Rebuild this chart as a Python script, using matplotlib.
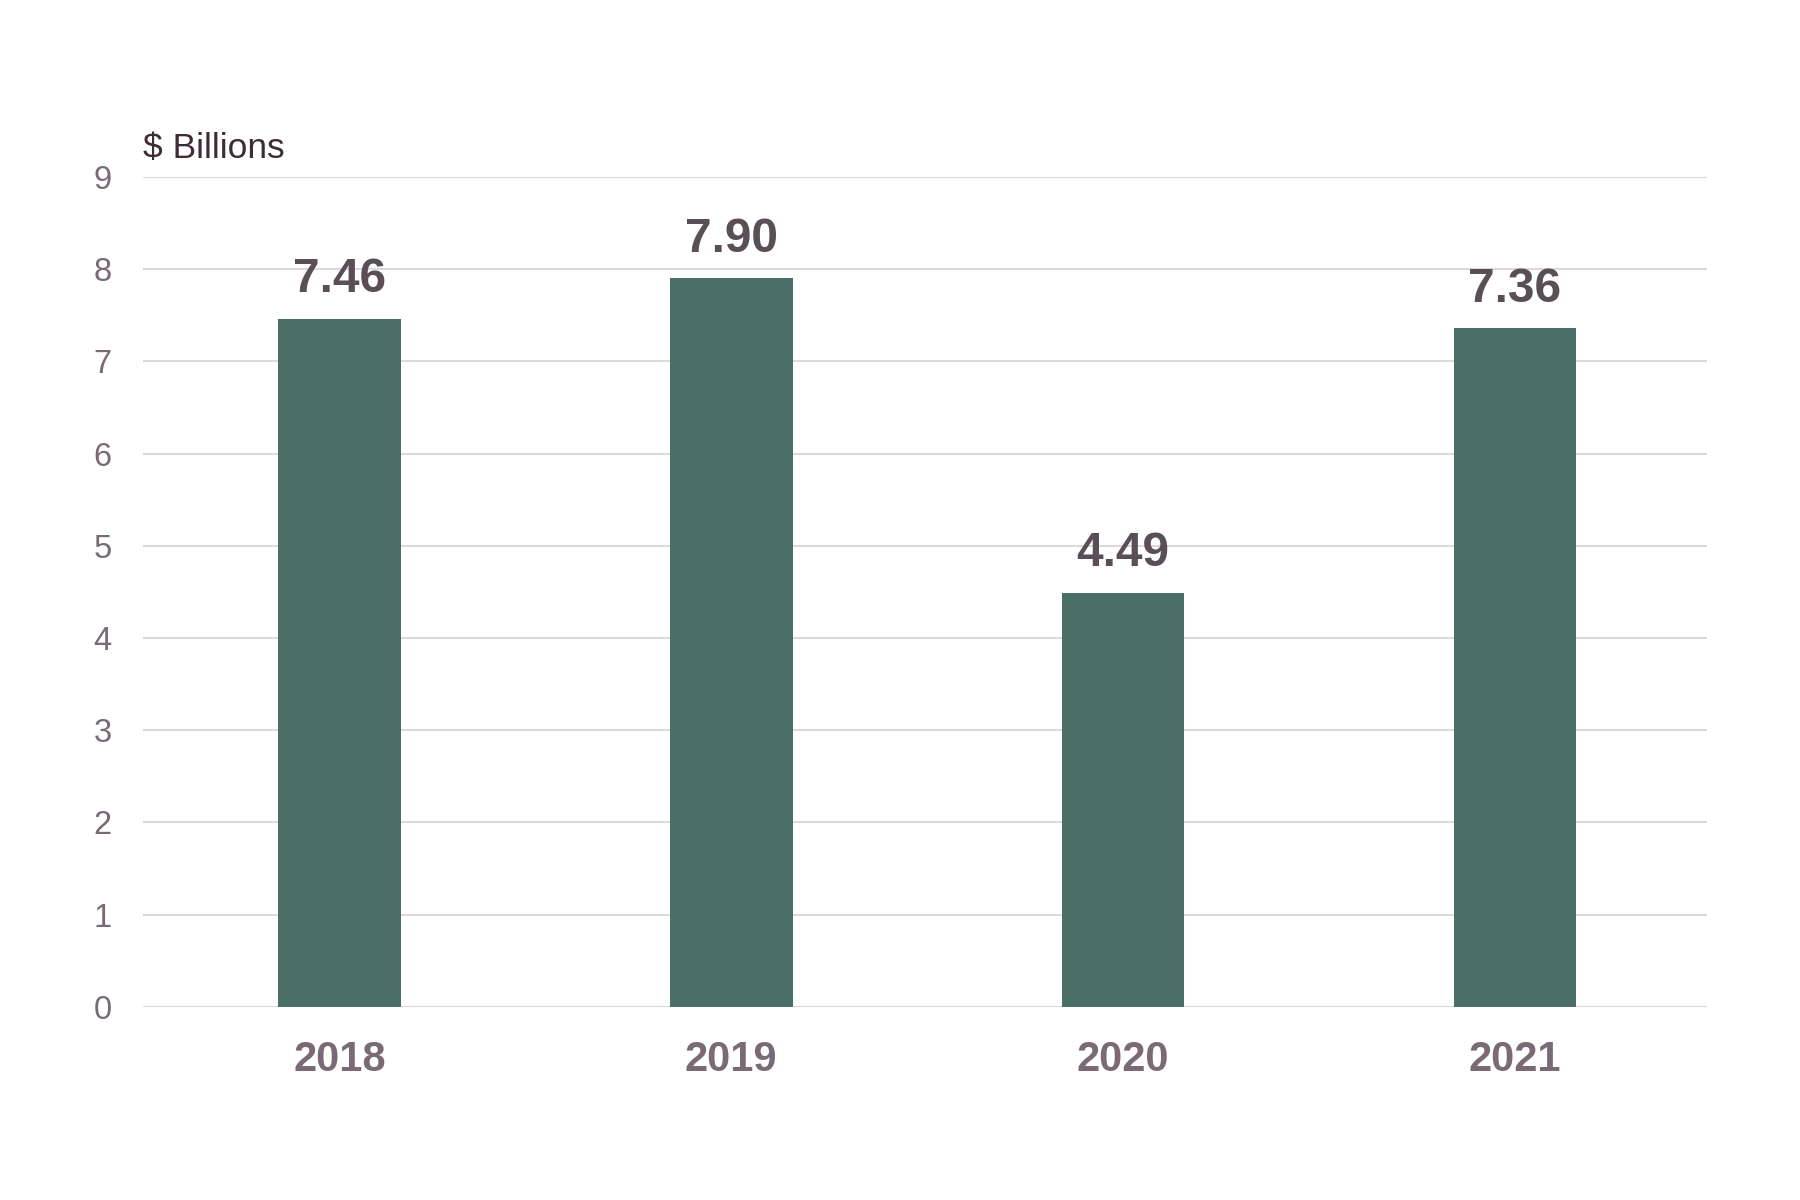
import matplotlib.pyplot as plt
import numpy as np

# chart values
years = ['2018', '2019', '2020', '2021']
values = [7.46, 7.90, 4.49, 7.36]
y_ticks = [0, 1, 2, 3, 4, 5, 6, 7, 8, 9]

plt.rcParams['font.family'] = ['Liberation Sans', 'DejaVu Sans']

fig = plt.figure(figsize=(18, 12), dpi=100)
ax = fig.add_axes([0.0797, 0.161, 0.8686, 0.6915])

x = np.arange(len(years))
bars = ax.bar(x, values, width=0.313, color='#4A6F66', zorder=3)

# value labels over the bars
for rect, v in zip(bars, values):
    ax.annotate(f'{v:.2f}', (rect.get_x() + rect.get_width() / 2, v),
                xytext=(0, 12), textcoords='offset points',
                ha='center', va='bottom', fontsize=34.5, fontweight='bold',
                color='#5A4E57')

ax.set_xlim(-0.5, len(years) - 0.51)
ax.set_ylim(0, 9)
ax.set_yticks(y_ticks)
ax.set_xticks(x)
ax.set_xticklabels(years, fontsize=30, fontweight='bold', color='#7A6A76')
ax.tick_params(axis='y', labelsize=23.5, labelcolor='#7A6A76', length=0, pad=23)
ax.tick_params(axis='x', length=0, pad=24)

# light horizontal grid
ax.grid(axis='y', color='#DDD9DB', linewidth=1.5, zorder=0)
for side in ['top', 'right', 'left', 'bottom']:
    ax.spines[side].set_visible(False)

ax.text(0, 1.015, '$ Billions', transform=ax.transAxes, ha='left', va='bottom',
        fontsize=25.5, color='#3D2B36')

fig.savefig('out.png', dpi=100, facecolor='white')
